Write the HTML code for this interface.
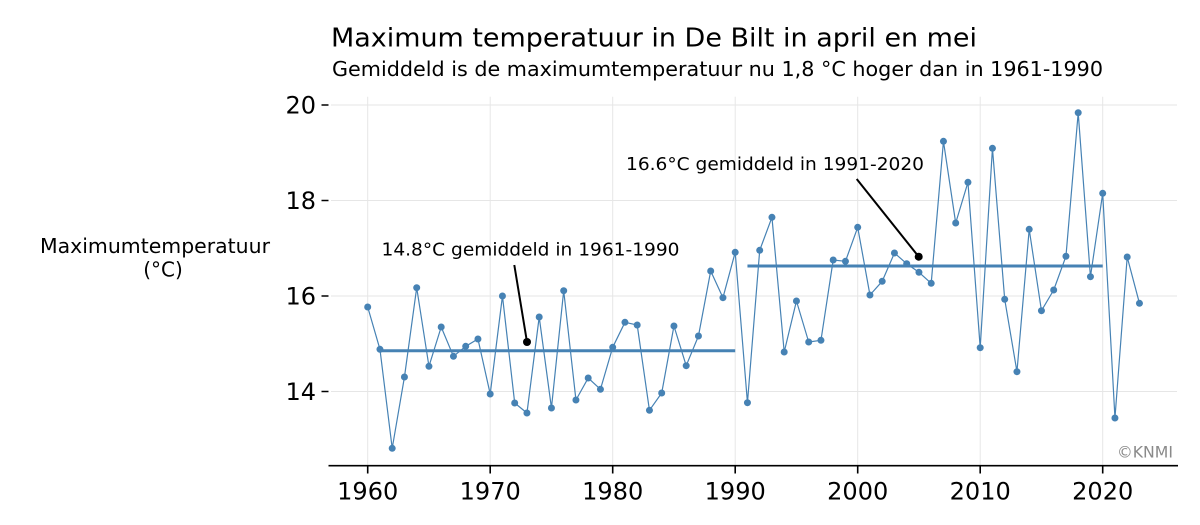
<!DOCTYPE html>
<html>
<head>
<meta charset="utf-8">
<style>
html,body{margin:0;padding:0;background:#fff;}
svg{display:block;}
text{font-family:"DejaVu Sans","Liberation Sans",sans-serif;fill:#000;}
</style>
</head>
<body>
<svg width="1200" height="525" viewBox="0 0 1200 525" xmlns="http://www.w3.org/2000/svg">
<rect width="1200" height="525" fill="#fff"/>
<!-- titles -->
<text x="331" y="46.5" font-size="26" textLength="646" lengthAdjust="spacingAndGlyphs">Maximum temperatuur in De Bilt in april en mei</text>
<text x="332" y="76" font-size="20" textLength="771" lengthAdjust="spacingAndGlyphs">Gemiddeld is de maximumtemperatuur nu 1,8 °C hoger dan in 1961-1990</text>
<!-- y label -->
<text x="155" y="253" font-size="20" text-anchor="middle" textLength="230" lengthAdjust="spacingAndGlyphs">Maximumtemperatuur</text>
<text x="163" y="276.5" font-size="20" text-anchor="middle">(°C)</text>
<!-- grid -->
<g stroke="#e6e6e6" stroke-width="1">
<line x1="367.7" y1="96.7" x2="367.7" y2="465.7"/>
<line x1="490.2" y1="96.7" x2="490.2" y2="465.7"/>
<line x1="612.7" y1="96.7" x2="612.7" y2="465.7"/>
<line x1="735.2" y1="96.7" x2="735.2" y2="465.7"/>
<line x1="857.7" y1="96.7" x2="857.7" y2="465.7"/>
<line x1="980.2" y1="96.7" x2="980.2" y2="465.7"/>
<line x1="1102.7" y1="96.7" x2="1102.7" y2="465.7"/>
<line x1="331" y1="105" x2="1177" y2="105"/>
<line x1="331" y1="200.5" x2="1177" y2="200.5"/>
<line x1="331" y1="296" x2="1177" y2="296"/>
<line x1="331" y1="391.5" x2="1177" y2="391.5"/>
</g>
<!-- y ticks -->
<g stroke="#000" stroke-width="1.5">
<line x1="321.5" y1="105" x2="328.5" y2="105"/>
<line x1="321.5" y1="200.5" x2="328.5" y2="200.5"/>
<line x1="321.5" y1="296" x2="328.5" y2="296"/>
<line x1="321.5" y1="391.5" x2="328.5" y2="391.5"/>
</g>
<g font-size="24" text-anchor="end">
<text x="316" y="113.7">20</text>
<text x="316" y="209.2">18</text>
<text x="316" y="304.7">16</text>
<text x="316" y="400.2">14</text>
</g>
<!-- x axis -->
<line x1="328.5" y1="465.7" x2="1178" y2="465.7" stroke="#000" stroke-width="1.6"/>
<g stroke="#000" stroke-width="1.6">
<line x1="367.7" y1="465.7" x2="367.7" y2="473.5"/>
<line x1="490.2" y1="465.7" x2="490.2" y2="473.5"/>
<line x1="612.7" y1="465.7" x2="612.7" y2="473.5"/>
<line x1="735.2" y1="465.7" x2="735.2" y2="473.5"/>
<line x1="857.7" y1="465.7" x2="857.7" y2="473.5"/>
<line x1="980.2" y1="465.7" x2="980.2" y2="473.5"/>
<line x1="1102.7" y1="465.7" x2="1102.7" y2="473.5"/>
</g>
<g font-size="24" text-anchor="middle">
<text x="367.7" y="499.3">1960</text>
<text x="490.2" y="499.3">1970</text>
<text x="612.7" y="499.3">1980</text>
<text x="735.2" y="499.3">1990</text>
<text x="857.7" y="499.3">2000</text>
<text x="980.2" y="499.3">2010</text>
<text x="1102.7" y="499.3">2020</text>
</g>
<!-- series -->
<polyline fill="none" stroke="#4682b4" stroke-width="1.2" stroke-linejoin="round" points="
367.7,307 379.95,349.3 392.2,448.3 404.45,377 416.7,287.7 428.95,366.3 441.2,327 453.45,356.3 465.7,346.3 477.95,339
490.2,394 502.45,296 514.7,403 526.95,413 539.2,317 551.45,408 563.7,290.7 575.95,400 588.2,378 600.45,389.3
612.7,347.3 624.95,322.3 637.2,325 649.45,410.3 661.7,393 673.95,326 686.2,365.7 698.45,336 710.7,271 722.95,297.7
735.2,252.3 747.45,402.7 759.7,250.3 771.95,217.3 784.2,352 796.45,301 808.7,342 820.95,340.3 833.2,260 845.45,261.3
857.7,227.3 869.95,295 882.2,281.3 894.45,253 906.7,263.7 918.95,272.3 931.2,283.3 943.45,141.3 955.7,223 967.95,182.3
980.2,347.7 992.45,148.3 1004.7,299.3 1016.95,371.7 1029.2,229.3 1041.45,310.7 1053.7,290 1065.95,256.3 1078.2,112.7 1090.45,276.7
1102.7,193.3 1114.95,418 1127.2,257 1139.45,303.3"/>
<g fill="#4682b4">
<circle cx="367.7" cy="307" r="3.5"/><circle cx="379.95" cy="349.3" r="3.5"/><circle cx="392.2" cy="448.3" r="3.5"/><circle cx="404.45" cy="377" r="3.5"/><circle cx="416.7" cy="287.7" r="3.5"/><circle cx="428.95" cy="366.3" r="3.5"/><circle cx="441.2" cy="327" r="3.5"/><circle cx="453.45" cy="356.3" r="3.5"/><circle cx="465.7" cy="346.3" r="3.5"/><circle cx="477.95" cy="339" r="3.5"/>
<circle cx="490.2" cy="394" r="3.5"/><circle cx="502.45" cy="296" r="3.5"/><circle cx="514.7" cy="403" r="3.5"/><circle cx="526.95" cy="413" r="3.5"/><circle cx="539.2" cy="317" r="3.5"/><circle cx="551.45" cy="408" r="3.5"/><circle cx="563.7" cy="290.7" r="3.5"/><circle cx="575.95" cy="400" r="3.5"/><circle cx="588.2" cy="378" r="3.5"/><circle cx="600.45" cy="389.3" r="3.5"/>
<circle cx="612.7" cy="347.3" r="3.5"/><circle cx="624.95" cy="322.3" r="3.5"/><circle cx="637.2" cy="325" r="3.5"/><circle cx="649.45" cy="410.3" r="3.5"/><circle cx="661.7" cy="393" r="3.5"/><circle cx="673.95" cy="326" r="3.5"/><circle cx="686.2" cy="365.7" r="3.5"/><circle cx="698.45" cy="336" r="3.5"/><circle cx="710.7" cy="271" r="3.5"/><circle cx="722.95" cy="297.7" r="3.5"/>
<circle cx="735.2" cy="252.3" r="3.5"/><circle cx="747.45" cy="402.7" r="3.5"/><circle cx="759.7" cy="250.3" r="3.5"/><circle cx="771.95" cy="217.3" r="3.5"/><circle cx="784.2" cy="352" r="3.5"/><circle cx="796.45" cy="301" r="3.5"/><circle cx="808.7" cy="342" r="3.5"/><circle cx="820.95" cy="340.3" r="3.5"/><circle cx="833.2" cy="260" r="3.5"/><circle cx="845.45" cy="261.3" r="3.5"/>
<circle cx="857.7" cy="227.3" r="3.5"/><circle cx="869.95" cy="295" r="3.5"/><circle cx="882.2" cy="281.3" r="3.5"/><circle cx="894.45" cy="253" r="3.5"/><circle cx="906.7" cy="263.7" r="3.5"/><circle cx="918.95" cy="272.3" r="3.5"/><circle cx="931.2" cy="283.3" r="3.5"/><circle cx="943.45" cy="141.3" r="3.5"/><circle cx="955.7" cy="223" r="3.5"/><circle cx="967.95" cy="182.3" r="3.5"/>
<circle cx="980.2" cy="347.7" r="3.5"/><circle cx="992.45" cy="148.3" r="3.5"/><circle cx="1004.7" cy="299.3" r="3.5"/><circle cx="1016.95" cy="371.7" r="3.5"/><circle cx="1029.2" cy="229.3" r="3.5"/><circle cx="1041.45" cy="310.7" r="3.5"/><circle cx="1053.7" cy="290" r="3.5"/><circle cx="1065.95" cy="256.3" r="3.5"/><circle cx="1078.2" cy="112.7" r="3.5"/><circle cx="1090.45" cy="276.7" r="3.5"/>
<circle cx="1102.7" cy="193.3" r="3.5"/><circle cx="1114.95" cy="418" r="3.5"/><circle cx="1127.2" cy="257" r="3.5"/><circle cx="1139.45" cy="303.3" r="3.5"/>
</g>
<!-- mean lines -->
<line x1="379.95" y1="350.7" x2="735.2" y2="350.7" stroke="#4682b4" stroke-width="3"/>
<line x1="747.45" y1="266" x2="1102.7" y2="266" stroke="#4682b4" stroke-width="3"/>
<!-- annotations -->
<line x1="514.3" y1="265" x2="527" y2="342" stroke="#000" stroke-width="2"/>
<circle cx="527" cy="342" r="4" fill="#000"/>
<line x1="856.7" y1="179" x2="918.7" y2="256.7" stroke="#000" stroke-width="2"/>
<circle cx="918.7" cy="256.7" r="4" fill="#000"/>
<text x="381.5" y="255.7" font-size="18" textLength="298" lengthAdjust="spacingAndGlyphs">14.8°C gemiddeld in 1961-1990</text>
<text x="626" y="170" font-size="18" textLength="298" lengthAdjust="spacingAndGlyphs">16.6°C gemiddeld in 1991-2020</text>
<!-- credit -->
<text x="1173" y="457.7" font-size="16" text-anchor="end" textLength="56" lengthAdjust="spacingAndGlyphs" style="fill:#8a8a8a">©KNMI</text>
</svg>
</body>
</html>
